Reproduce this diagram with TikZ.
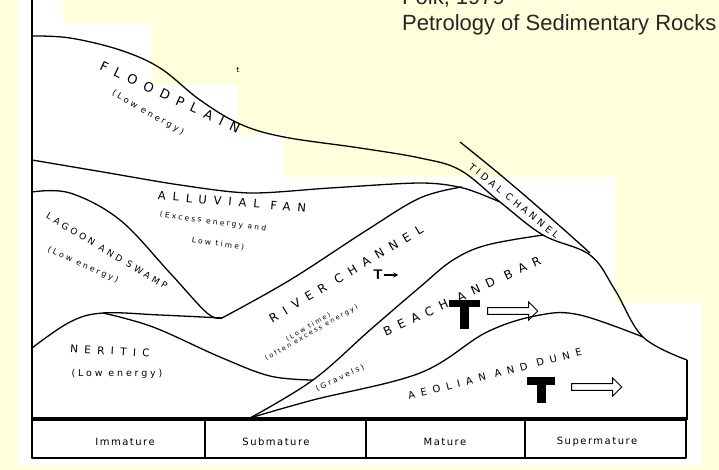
\documentclass[tikz,border=0pt]{standalone}
\usepackage{fontspec}
\setmainfont{Liberation Sans}
\newfontfamily\hand[LetterSpace=60]{DejaVu Sans}
\newfontfamily\handb[LetterSpace=35]{DejaVu Sans}
\newfontfamily\handsub[LetterSpace=30]{DejaVu Sans}
\newfontfamily\tabfont[LetterSpace=15]{DejaVu Sans}
\usetikzlibrary{shapes.arrows}
\definecolor{bgy}{HTML}{FFFFDC}
\newcommand{\fs}[1]{\fontsize{#1}{#1}\selectfont}
\tikzset{
  ln/.style={line width=1.3pt, line join=round},
  lab/.style={inner sep=0pt},
  sub/.style={inner sep=0pt, align=center},
  tab/.style={font=\tabfont\fs{10}, inner sep=0pt},
  sarrow/.style={single arrow, draw=black, line width=1pt, minimum height=50pt, minimum width=18pt, single arrow head extend=4pt, inner sep=2pt},
}
\begin{document}
\begin{tikzpicture}[x=1pt,y=-1pt]
\useasboundingbox (0,0) rectangle (719,470);
\fill[bgy] (0,0) rectangle (719,470);
\fill[white] (18,0) -- (63,0) -- (63,24) -- (151,24) -- (151,85) -- (238,85) -- (238,135) -- (284,135) -- (284,177) -- (615,177) -- (615,303) -- (702,303) -- (702,465) -- (18,465) -- cycle;
% header
\node[anchor=base west, font=\fs{22}, text=black!85, inner sep=0pt] (folk) at (402,5) {Folk, 1979};
\node[anchor=base west, font=\fs{22}, text=black!85, inner sep=0pt] (petro) at (402,31) {Petrology of Sedimentary Rocks};
% axis
\draw[ln] (32,0) -- (32,420);
% table
\draw[ln] (32,420) rectangle (686,458);
\draw[ln] (205,420) -- (205,458) (366,420) -- (366,458) (525,420) -- (525,458);
\node[tab] (im) at (125,442) {Immature};
\node[tab] (sm) at (276,442) {Submature};
\node[tab] (ma) at (445,442) {Mature};
\node[tab] (su) at (597,442) {Supermature};
% floodplain top
\draw[ln] plot[smooth, tension=0.6] coordinates {(32,36) (70,38) (120,50) (160,68) (200,100) (240,124) (284,137) (360,148) (420,158) (460,170) (500,202) (543,235) (590,255) (615,290) (643,337) (687,360)};
\draw[ln] (687,360) -- (687,420);
% tidal channel upper
\draw[ln] plot[smooth, tension=0.6] coordinates {(460,142) (503,177) (553,220) (590,253)};
% alluvial top
\draw[ln] plot[smooth, tension=0.5] coordinates {(32,160) (103,172) (180,185) (250,193) (330,188) (420,183) (463,188) (500,202)};
% river channel top
\draw[ln] plot[smooth, tension=0.6] coordinates {(222,318) (290,280) (367,230) (420,198) (462,187)};
% lagoon top
\draw[ln] plot[smooth, tension=0.6] coordinates {(32,192) (70,193) (120,220) (170,273) (207,313) (222,318)};
% neritic / lagoon bottom
\draw[ln] plot[smooth, tension=0.6] coordinates {(32,348) (70,322) (103,313) (160,315) (222,318)};
\draw[ln] plot[smooth, tension=0.6] coordinates {(103,313) (153,327) (220,357) (270,376) (313,380)};
% beach bar bottom
\draw[ln] plot[smooth, tension=0.6] coordinates {(250,418) (313,380) (370,330) (420,287) (453,260) (487,245) (543,235)};
% aeolian top
\draw[ln] plot[smooth, tension=0.6] coordinates {(250,418) (313,400) (420,373) (487,332) (540,315) (580,315) (643,337)};
% bottom line
\draw[ln] (32,418) -- (686,418);
% labels
\node[lab, rotate=-25, font=\hand\fs{13}] (fp) at (170,97) {FLOODPLAIN};
\node[sub, rotate=-30, font=\handsub\fs{8.5}] (fpe) at (148,113) {(Low energy)};
\node[font=\sffamily\fs{9}, inner sep=0pt] (t) at (238,70) {t};
\node[lab, rotate=-39, font=\handb\fs{9.5}] (tc) at (514,201) {TIDAL CHANNEL};
\node[lab, rotate=-5, font=\hand\fs{11.5}] (af) at (232,202) {ALLUVIAL FAN};
\node[sub, rotate=-8, font=\handsub\fs{7.5}] (afe) at (213,222) {(Excess energy and};
\node[sub, rotate=-8, font=\handsub\fs{7.5}] (afe2) at (218,244) {Low time)};
\node[lab, rotate=-31, font=\handb\fs{9}] (lg) at (107,251) {LAGOON AND SWAMP};
\node[sub, rotate=-24, font=\handsub\fs{8}] (lge) at (83,265) {(Low energy)};
\node[lab, rotate=31, font=\hand\fs{12}] (rc) at (346,274) {RIVER CHANNEL};
\node[sub, rotate=30, font=\handsub\fs{6.5}] (rce) at (310,330) {(Low time)\\(often excess energy)};
\node[lab, rotate=25, font=\hand\fs{12}] (bb) at (462,296) {BEACH AND BAR};
\node[lab, rotate=14.5, font=\hand\fs{10}] (ad) at (495,374) {AEOLIAN AND DUNE};
\node[lab, rotate=-3, font=\hand\fs{10.5}] (ne) at (110,351) {NERITIC};
\node[sub, font=\handsub\fs{9.5}] (nee) at (117,374) {(Low energy)};
\node[sub, rotate=25, font=\handsub\fs{7.5}] (gr) at (340,378) {(Gravels)};
% T symbols
\node[font=\sffamily\bfseries\fs{14}, inner sep=0pt] (t1) at (378,275) {T};
\draw[-stealth, line width=1.3pt] (t1.east) ++(1,0) coordinate (a1s) -- ++(14,0) coordinate (a1e);
\fill (449,300) rectangle (480,307);
\fill (460,307) rectangle (469,329);
\node[sarrow] (ar1) at (511,311) {};
\fill (527,377) rectangle (555,385);
\fill (537,385) rectangle (546,403);
\node[sarrow] (ar2) at (595,387) {};
\end{tikzpicture}
\end{document}
